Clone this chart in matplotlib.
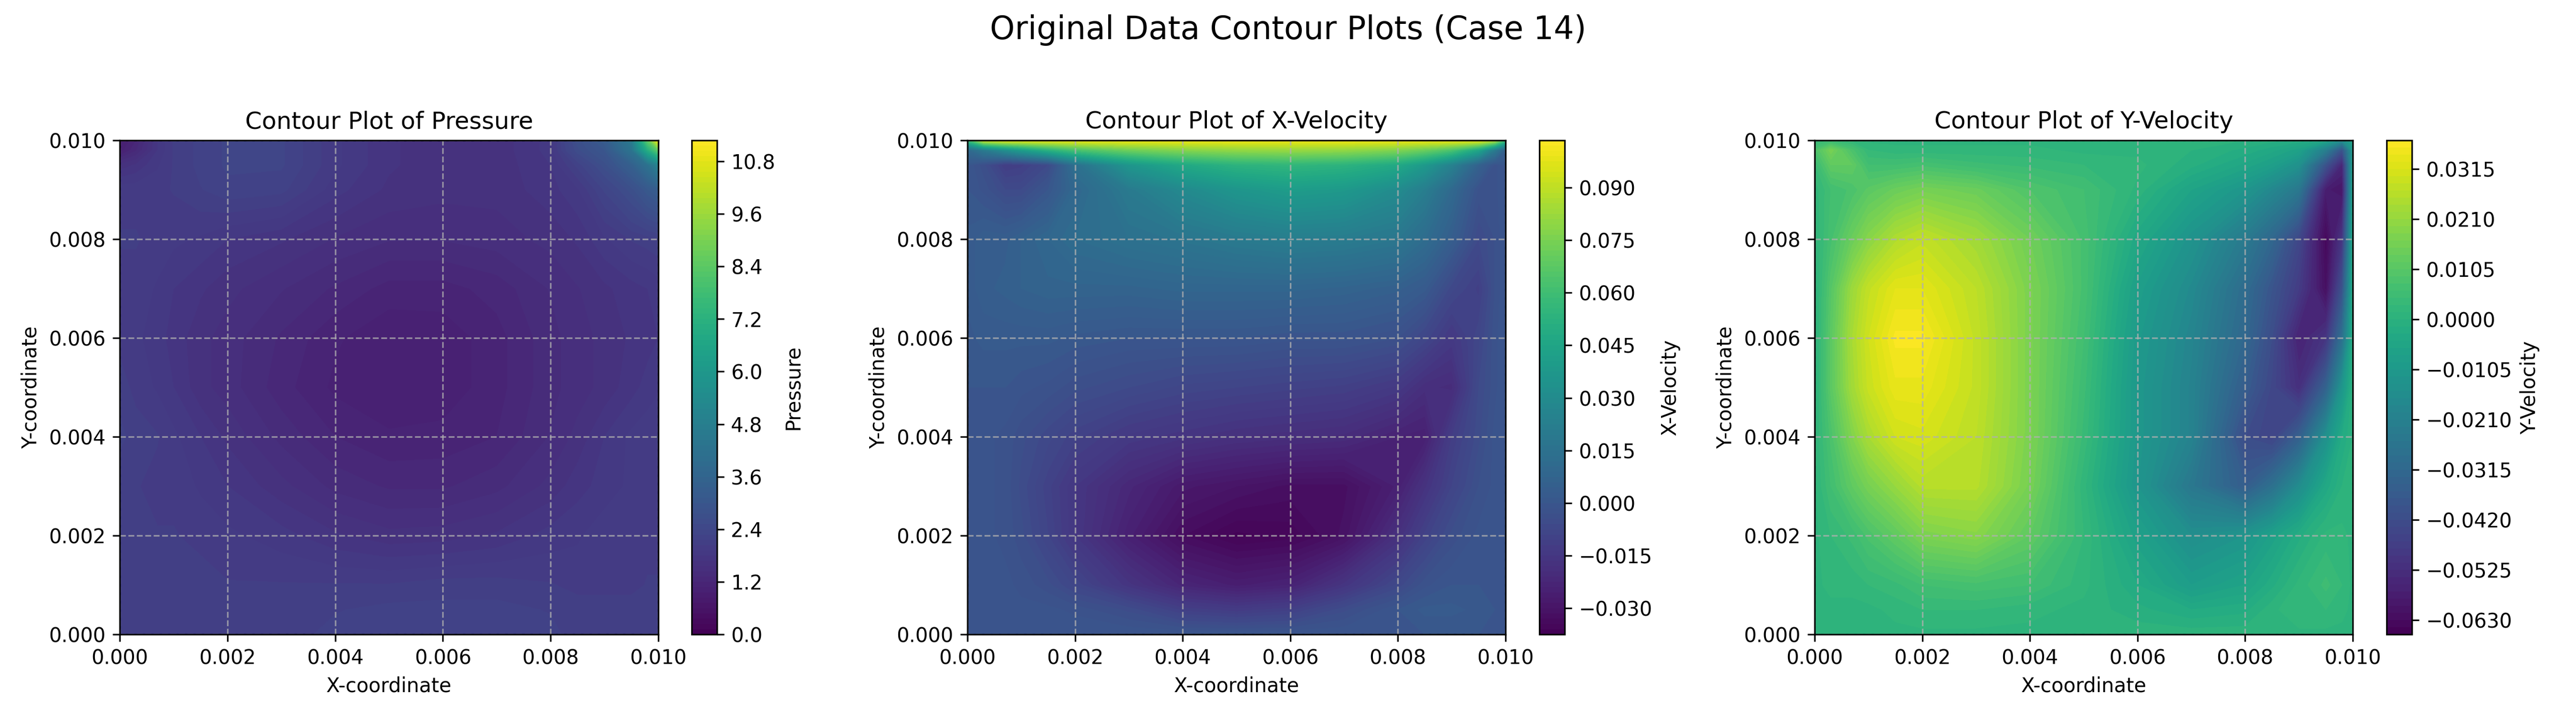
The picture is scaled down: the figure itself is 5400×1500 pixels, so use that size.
import numpy as np
import matplotlib
matplotlib.use('Agg')
import matplotlib.pyplot as plt

# sample positions, tighter near the walls
x_grid = [0, .0003, .0007, .001, .0015, .002, .003, .004, .005, .006, .007, .008, .0085, .009, .0095, .0098, .01]
y_grid = [0, .0005, .001, .002, .003, .004, .005, .006, .007, .008, .009, .0095, .0098, .01]

pressure = [
	[2.1, 2.1, 2.1, 2.1, 2.1, 2.1, 2.1, 2.2, 2.2, 2.25, 2.25, 2.2, 2.1, 2.1, 2.1, 2.1, 2.1],
	[2.1, 2.1, 2.1, 2.1, 2.1, 2.1, 2.1, 2.15, 2.2, 2.2, 2.2, 2.15, 2.1, 2.1, 2.1, 2.1, 2.1],
	[2.1, 2.1, 2.1, 2.1, 2.1, 2.05, 2.05, 2.05, 2.05, 2.1, 2.1, 2.05, 2.0, 2.0, 2.0, 2.05, 2.05],
	[2.05, 2.05, 2.05, 2.05, 2.0, 1.95, 1.85, 1.7, 1.6, 1.62, 1.7, 1.85, 1.9, 2.0, 2.0, 2.0, 2.0],
	[2.05, 2.05, 2.0, 2.0, 1.9, 1.8, 1.6, 1.4, 1.3, 1.3, 1.4, 1.6, 1.75, 1.85, 1.95, 2.0, 2.0],
	[2.2, 2.1, 2.05, 1.95, 1.8, 1.65, 1.4, 1.2, 1.1, 1.12, 1.2, 1.45, 1.6, 1.8, 1.95, 2.0, 2.05],
	[2.1, 2.0, 1.9, 1.8, 1.6, 1.5, 1.25, 1.05, .97, 1.0, 1.15, 1.4, 1.5, 1.6, 1.75, 1.85, 1.9],
	[2.0, 1.95, 1.85, 1.75, 1.6, 1.5, 1.3, 1.1, .98, 1.0, 1.15, 1.4, 1.5, 1.6, 1.7, 1.75, 1.8],
	[2.0, 2.0, 1.9, 1.8, 1.7, 1.6, 1.45, 1.3, 1.15, 1.15, 1.25, 1.45, 1.55, 1.65, 1.75, 1.8, 1.85],
	[2.05, 2.05, 2.0, 1.95, 1.9, 1.8, 1.7, 1.55, 1.45, 1.45, 1.5, 1.6, 1.7, 1.9, 2.05, 2.1, 2.15],
	[2.0, 2.0, 2.0, 2.05, 2.15, 2.25, 2.2, 1.85, 1.65, 1.6, 1.6, 1.75, 1.9, 2.3, 2.7, 3.1, 3.3],
	[1.6, 1.7, 1.9, 2.05, 2.2, 2.3, 2.3, 1.95, 1.7, 1.6, 1.6, 1.8, 2.2, 2.7, 3.4, 4.2, 5.0],
	[1.0, 1.3, 1.8, 2.05, 2.2, 2.3, 2.3, 1.95, 1.7, 1.6, 1.6, 1.85, 2.6, 3.0, 4.3, 7.0, 8.5],
	[0.9, 1.2, 1.8, 2.05, 2.2, 2.3, 2.3, 1.95, 1.7, 1.6, 1.6, 1.85, 2.7, 3.2, 4.6, 8.5, 11.2],
]

x_velocity = [
	[0, 0, 0, 0, 0, 0, 0, 0, 0, 0, 0, 0, 0, 0, 0, 0, 0],
	[0, 0, 0, -.001, -.001, -.002, -.005, -.011, -.013, -.011, -.005, 0, .002, .002, .001, 0, 0],
	[0, 0, -.001, -.002, -.004, -.008, -.016, -.023, -.026, -.024, -.016, -.007, -.002, 0, 0, 0, 0],
	[0, -.001, -.002, -.004, -.009, -.015, -.025, -.033, -.0365, -.0355, -.031, -.018, -.01, -.004, -.001, 0, 0],
	[0, -.001, -.002, -.005, -.01, -.015, -.022, -.028, -.03, -.032, -.032, -.025, -.017, -.009, -.003, -.001, 0],
	[0, -.001, -.002, -.004, -.007, -.01, -.014, -.016, -.018, -.019, -.02, -.024, -.025, -.012, -.005, -.001, 0],
	[0, 0, 0, -.001, -.002, -.004, -.006, -.008, -.009, -.01, -.011, -.014, -.019, -.02, -.006, -.002, 0],
	[.001, .002, .002, .002, .002, .001, 0, 0, 0, -.001, -.001, -.003, -.008, -.014, -.008, -.002, 0],
	[.002, .004, .005, .006, .007, .007, .007, .008, .008, .008, .007, .005, .002, -.007, -.011, -.003, 0],
	[.002, .004, .004, .006, .009, .012, .015, .017, .02, .022, .021, .018, .012, .004, -.006, -.003, 0],
	[0, -.002, -.006, -.006, 0, .009, .02, .029, .036, .04, .038, .03, .022, .01, -.002, -.002, 0],
	[0, -.004, -.012, -.011, -.006, .014, .036, .047, .053, .055, .053, .047, .038, .024, .006, -.002, 0],
	[.01, .02, .032, .04, .052, .062, .072, .077, .08, .081, .08, .076, .071, .063, .045, .02, .005],
	[.06, .095, .1, .1, .1, .1, .1, .1, .1, .1, .1, .1, .1, .1, .1, .09, .06],
]

y_velocity = [
	[.001, .001, .001, .001, .001, .001, .001, .001, .001, .001, .001, .001, .001, .001, .001, .001, .001],
	[.001, .001, .001, .001, .002, .003, .003, .002, .001, -.001, -.003, -.002, .001, .003, .003, .002, .001],
	[.001, .002, .002, .003, .004, .006, .007, .006, .002, -.003, -.009, -.006, -.002, .002, .005, .003, .001],
	[.001, .003, .005, .008, .012, .017, .019, .012, .003, -.007, -.015, -.012, -.007, -.002, .002, .002, .001],
	[.001, .006, .012, .016, .021, .026, .026, .016, .002, -.012, -.025, -.036, -.028, -.016, -.004, 0, .001],
	[.001, .008, .018, .024, .03, .031, .027, .017, .004, -.011, -.02, -.042, -.045, -.035, -.014, -.003, 0],
	[0, .011, .023, .029, .034, .034, .028, .017, .005, -.011, -.02, -.036, -.044, -.052, -.034, -.012, 0],
	[0, .011, .024, .03, .0365, .0365, .028, .017, .006, -.01, -.019, -.032, -.042, -.056, -.05, -.028, -.002],
	[0, .01, .022, .028, .033, .033, .027, .017, .007, -.008, -.017, -.03, -.039, -.048, -.062, -.04, -.003],
	[.001, .007, .014, .019, .025, .028, .023, .015, .007, -.004, -.013, -.024, -.032, -.044, -.064, -.05, -.004],
	[.002, .006, .008, .011, .014, .016, .014, .009, .006, .001, -.006, -.012, -.018, -.025, -.058, -.06, -.006],
	[.004, .012, .012, .006, .006, .007, .005, .004, .003, .002, -.001, -.005, -.008, -.014, -.04, -.055, -.008],
	[.008, .016, .008, .003, .002, .002, .002, .002, .001, .001, 0, -.002, -.004, -.007, -.022, -.04, -.01],
	[.003, .004, .002, .001, .001, .001, .001, .001, .001, .001, .001, 0, -.001, -.002, -.005, -.015, -.006],
]

names = ['Pressure', 'X-Velocity', 'Y-Velocity']
fields = [pressure, x_velocity, y_velocity]
level_starts = [0.0, -0.0375, -0.066]
level_steps = [0.12, 0.0015, 0.0015]
level_counts = [95, 95, 70]
cbar_ticks = [
	[0.0, 1.2, 2.4, 3.6, 4.8, 6.0, 7.2, 8.4, 9.6, 10.8],
	[-0.030, -0.015, 0.000, 0.015, 0.030, 0.045, 0.060, 0.075, 0.090],
	[-0.0630, -0.0525, -0.0420, -0.0315, -0.0210, -0.0105, 0.0000, 0.0105, 0.0210, 0.0315],
]
axis_ticks = [0.000, 0.002, 0.004, 0.006, 0.008, 0.010]

# panel placement in pixels of the 5400x1500 canvas: axes left/right, colorbar left/right
panel_px = [(251, 1380, 1450, 1503), (2028, 3156, 3227, 3280), (3804, 4932, 5003, 5056)]
top_px, bottom_px = 294, 1329
W, H = 5400, 1500


def main():
	fig = plt.figure(figsize=(18, 5), dpi=300)
	fig.suptitle('Original Data Contour Plots (Case 14)', fontsize=16, x=0.5, y=0.98)

	for i, name in enumerate(names):
		l, r, cl, cr = panel_px[i]
		ax = fig.add_axes([l / W, 1 - bottom_px / H, (r - l) / W, (bottom_px - top_px) / H])
		cax = fig.add_axes([cl / W, 1 - bottom_px / H, (cr - cl) / W, (bottom_px - top_px) / H])

		levels = level_starts[i] + np.arange(level_counts[i]) * level_steps[i]
		cf = ax.contourf(x_grid, y_grid, np.array(fields[i]), levels=levels, cmap='viridis')

		ax.set_title(f'Contour Plot of {name}', fontsize=12)
		ax.set_xlabel('X-coordinate', fontsize=10)
		ax.set_ylabel('Y-coordinate', fontsize=10)
		ax.set_xticks(axis_ticks)
		ax.set_yticks(axis_ticks)
		ax.xaxis.set_major_formatter('{x:.3f}')
		ax.yaxis.set_major_formatter('{x:.3f}')
		ax.grid(True, linestyle='--', alpha=0.75)

		cbar = fig.colorbar(cf, cax=cax, ticks=cbar_ticks[i])
		cbar.set_label(name, fontsize=10)

	fig.savefig('out.png', dpi=300)


if __name__ == '__main__':
	main()
